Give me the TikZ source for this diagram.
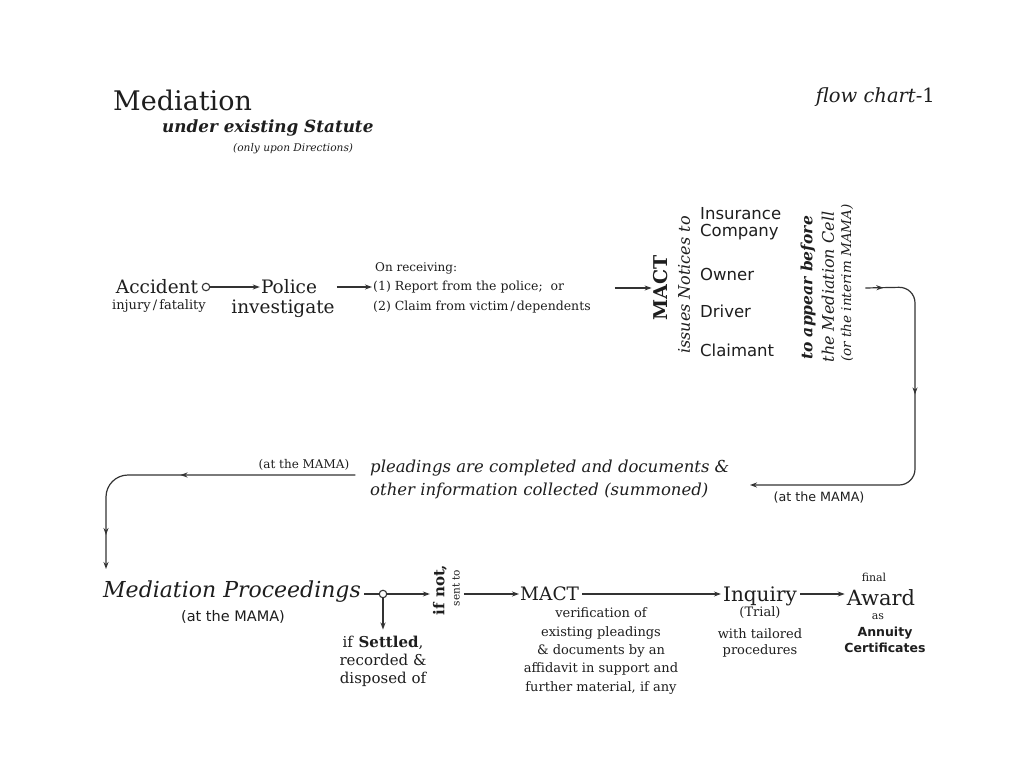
\documentclass[tikz,border=0pt]{standalone}
\usepackage{fontspec}
\setmainfont{DejaVu Serif}
\setsansfont{DejaVu Sans}
\usetikzlibrary{arrows.meta,decorations.markings}
\definecolor{ink}{HTML}{1E1E1E}
\definecolor{lineC}{HTML}{333333}
\newcommand{\fsz}[2]{\fontsize{#1}{#2}\selectfont}
\begin{document}
\begin{tikzpicture}[x=1pt,y=-1pt,
  txt/.style={inner sep=0pt, text=ink},
  conn/.style={draw=lineC, line width=1.2pt},
  tip/.style={-{Stealth[length=7pt,width=5pt]}},
  dot/.style={circle, draw=lineC, line width=1.1pt, fill=white, minimum size=7.5pt, inner sep=0pt},
  midarrows/.style 2 args={postaction={decorate}, decoration={markings,
     mark=at position #1 with {\arrow{Stealth[length=7pt,width=5pt]}},
     mark=at position #2 with {\arrow{Stealth[length=7pt,width=5pt]}}}},
]
\useasboundingbox (0,0) rectangle (1010,771);
\fill[white] (0,0) rectangle (1010,771);

% heading
\node[txt, anchor=west, font=\fsz{27}{30}] (title) at (113,100) {Mediation};
\node[txt, anchor=west, font=\fsz{16.8}{18}\bfseries\itshape] (sub1) at (162,128) {under existing Statute};
\node[txt, anchor=west, font=\fsz{10.6}{12}\itshape] (sub2) at (233,149) {(only upon Directions)};
\node[txt, anchor=east, font=\fsz{19.5}{21}\itshape] (fc) at (935,97) {flow chart-\textup{1}};

% row 1
\node[txt, font=\fsz{18.5}{20}] (acc) at (157,287) {Accident};
\node[txt, font=\fsz{13}{14}] (inj) at (159,306) {injury\,/\,fatality};
\node[dot] (c1) at (206,287) {};
\node[txt, font=\fsz{18.5}{20}] (pol) at (289,287) {Police};
\node[txt, font=\fsz{18.5}{20}] (inv) at (283,309) {investigate};
\node[txt, anchor=west, font=\fsz{12}{14}] (rec0) at (375,268) {On receiving:};
\node[txt, anchor=west, font=\fsz{12.5}{14}] (rec1) at (373,287) {(1) Report from the police;\ \ or};
\node[txt, anchor=west, font=\fsz{12.5}{14}] (rec2) at (373,307) {(2) Claim from victim\,/\,dependents};

\node[txt, rotate=90, font=\fsz{19}{20}\bfseries] (mact) at (661,288) {MACT};
\node[txt, rotate=90, font=\fsz{16}{18}\itshape] (iss) at (684,285) {issues Notices to};
\node[txt, anchor=west, font=\sffamily\fsz{16.5}{18}] (ins) at (700,214) {Insurance};
\node[txt, anchor=west, font=\sffamily\fsz{16.5}{18}] (comp) at (700,232) {Company};
\node[txt, anchor=west, font=\sffamily\fsz{16.5}{18}] (own) at (700,274) {Owner};
\node[txt, anchor=west, font=\sffamily\fsz{16.5}{18}] (drv) at (700,311) {Driver};
\node[txt, anchor=west, font=\sffamily\fsz{16.5}{18}] (clm) at (700,350) {Claimant};
\node[txt, rotate=90, font=\fsz{15.5}{17}\bfseries\itshape] (ap1) at (808,288) {to appear before};
\node[txt, rotate=90, font=\fsz{16}{18}\itshape] (ap2) at (828,287) {the Mediation Cell};
\node[txt, rotate=90, font=\fsz{13.5}{15}\itshape] (ap3) at (847,283) {(or the interim MAMA)};

\draw[conn,tip,shorten >=1pt] (c1) -- (pol.west);
\draw[conn,tip] ([xshift=2pt]inv.east |- pol.east) -- ([xshift=-1pt]rec1.west);
\draw[conn,tip] ([xshift=24pt]rec2.east |- mact.north) -- ([xshift=-2pt]mact.north);

% middle
\node[txt, anchor=west, font=\fsz{16.5}{18}\itshape] (pl1) at (370,468) {pleadings are completed and documents \&};
\node[txt, anchor=west, font=\fsz{16.5}{18}\itshape] (pl2) at (370,491) {other information collected (summoned)};
\node[txt, font=\sffamily\fsz{12.7}{14}] (mamaR) at (819,498) {(at the MAMA)};
\node[txt, font=\fsz{12}{13}] (mamaL) at (304,465) {(at the MAMA)};

\coordinate (r0) at ([xshift=12pt]ap3.south |- mact.north);
\coordinate (rin) at (750,485);
\draw[conn, tip, rounded corners=16pt, midarrows={18pt}{150pt}]
  (r0) -- (915,287) -- (915,485) -- (rin);

\coordinate (l0) at ([xshift=6pt,yshift=-10pt]mamaL.east);
\coordinate (lout) at (106,569);
\draw[conn, tip, rounded corners=22pt, midarrows={175pt}{300pt}]
  (l0) -- (106,475) -- (lout);

% row 3
\node[txt, anchor=west, font=\fsz{22}{24}\itshape] (mp) at (103,592) {Mediation Proceedings};
\node[txt, font=\sffamily\fsz{14.5}{16}] (mpm) at (233,617) {(at the MAMA)};
\node[dot] (c2) at (383,594) {};
\node[txt, rotate=90, font=\fsz{15}{17}\bfseries] (ifn) at (440,590) {if not,};
\node[txt, rotate=90, font=\fsz{10.5}{12}] (snt) at (456,588) {sent to};
\node[txt, align=center, font=\fsz{15}{18}] (set) at (383,661) {if \textbf{Settled},\\recorded \&\\disposed of};
\node[txt, anchor=west, font=\fsz{18.5}{20}] (mact2) at (520,594) {MACT};
\node[txt, align=center, font=\fsz{13}{18.3}] (ver) at (601,651) {verification of\\existing pleadings\\\& documents by an\\affidavit in support and\\further material, if any};
\node[txt, font=\fsz{20}{22}] (inq) at (760,596) {Inquiry};
\node[txt, font=\fsz{13}{15}] (tri) at (760,613) {(Trial)};
\node[txt, align=center, font=\fsz{13}{16}] (tai) at (760,643) {with tailored\\procedures};
\node[txt, font=\fsz{11}{12}] (fin) at (874,577) {final};
\node[txt, font=\fsz{21}{22}] (awd) at (881,598) {Award};
\node[txt, font=\fsz{11}{12}] (as) at (878,617) {as};
\node[txt, align=center, font=\sffamily\bfseries\fsz{12.5}{16}] (ann) at (885,640) {Annuity\\Certificates};

\draw[conn] ([xshift=3pt]mp.east |- c2) -- (c2);
\draw[conn,tip] (c2) -- ([xshift=-3pt]ifn.north |- c2);
\draw[conn,tip] (c2) -- ([yshift=6pt]set.north);
\draw[conn,tip] ([xshift=4pt]snt.south |- c2) -- ([xshift=-1pt]mact2.west);
\draw[conn,tip] ([xshift=3pt]mact2.east) -- ([xshift=-2pt]mact2.east -| inq.west);
\draw[conn,tip] ([xshift=3pt]inq.east |- mact2.east) -- ([xshift=-2pt]awd.west |- mact2.east);
\end{tikzpicture}
\end{document}
